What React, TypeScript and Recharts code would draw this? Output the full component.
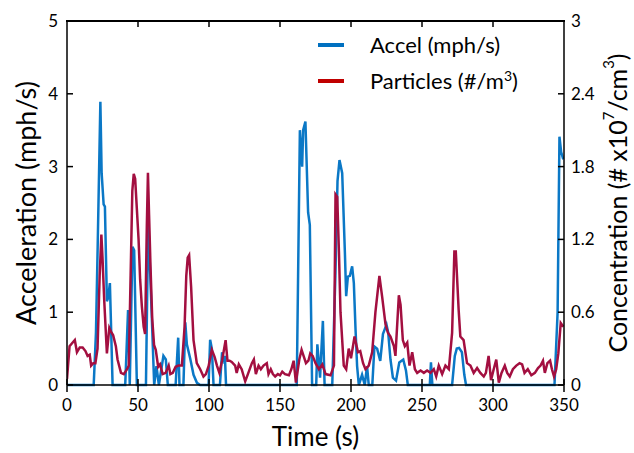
import React from 'react';
import { ComposedChart, Line, XAxis, YAxis } from 'recharts';

// acceleration trace (mph/s)
const accelTime = [
  0, 18.8, 20.4, 21.6, 23.5, 24.4, 25.8, 26.7, 28.1, 29, 30.2, 30.9, 32.1, 41, 43, 44.2, 46.1, 47.3, 49.2,
  55.6, 57.2, 59.6, 61.4, 63, 64.7, 67.9, 69.6, 71, 76.5, 78.3, 79.2, 82, 83.3, 84.4, 86.8, 89.1, 91.5, 93.8,
  99.7, 100.8, 102, 103.2, 107.7, 109.2, 110.4, 111.2, 112, 161.8, 164, 165.6, 166.3, 167.9, 169.8, 171, 172.6,
  175.5, 176.3, 177.2, 178.2, 179.2, 180.2, 181.4, 186.8, 189, 190.5, 191.9, 193.8, 195.7, 196.6, 197.8, 199.2,
  200.8, 202, 203.2, 204.3, 205.5, 207.8, 209.7, 211.3, 212.5, 215, 216.5, 218.4, 220.6, 222.5, 225, 226.2,
  227.8, 229.5, 231.7, 234, 236.8, 238.7, 240, 255.5, 256.3, 257.3, 271.2, 273.1, 274.5, 276.1, 278.1, 279.8,
  281, 343.3, 345.5, 346.8, 348, 349.5,
];
const accelValue = [
  0, 0, 0.72, 1.9, 3.89, 2.91, 2.48, 2.45, 1.15, 1.2, 1.4, 0.9, 0, 0, 1.03, 0, 1.9, 1.85, 0,
  0, 2.27, 1.0, 0, 0.26, 0, 0.4, 0.35, 0, 0, 0.65, 0, 0, 0.86, 0.56, 0.36, 0.14, 0.03, 0,
  0, 0.62, 0.5, 0, 0, 0.45, 0.35, 0.4, 0, 0, 3.5, 3.0, 3.5, 3.62, 2.37, 2.2, 0,
  0, 0.56, 0.35, 0.1, 0.5, 0.88, 0, 0, 1.5, 2.8, 3.09, 2.91, 1.82, 1.22, 1.49, 1.5,
  1.63, 1.4, 0.76, 0.26, 0, 0.14, 0, 0.26, 0, 0, 0.53, 0.5, 0.33, 0.7, 0.83, 0.72,
  0.35, 0.1, 0.06, 0.31, 0.35, 0.2, 0, 0, 0.31, 0, 0, 0.4, 0.5, 0.51, 0.45, 0.14,
  0, 0, 1.0, 3.41, 3.2, 3.1,
];

// particle concentration (# x10^7/cm^3)
const particleTime = [
  0, 1.8, 4, 5.5, 7, 9, 11, 13, 14.5, 16, 17, 18.5, 20, 21.5, 23, 24.2, 25, 26.2, 28.1, 29.8, 31, 32.5,
  34.4, 35.6, 38, 40, 42.3, 43.5, 44.8, 46, 47, 48, 49.2, 50.4, 51.5, 52.7, 54, 55, 56.2, 57, 57.8, 58.8,
  60, 61.3, 62.5, 64.2, 65.5, 67.4, 69.5, 71.6, 72.8, 74.5, 76.5, 78.5, 80.9, 82.8, 84, 85, 86, 87.4, 89.1,
  91.4, 93.8, 96.1, 97.8, 99.7, 102, 104, 105.6, 107.3, 109.2, 111.7, 113, 114.5, 116, 118.4, 119.5, 121,
  123, 125.5, 127.4, 130.2, 131.6, 133, 134.9, 136.5, 138.4, 140.7, 141.9, 143.5, 145, 146.6, 148.5, 150,
  151.6, 153.5, 156.3, 158, 159.6, 161.2, 163.6, 165.2, 166.6, 168.3, 170, 171.3, 173, 175, 177.4, 179.8,
  182.1, 185.6, 188, 189.1, 190.3, 191.5, 192.6, 194.9, 196.6, 198.4, 200, 202.5, 204.9, 206.5, 208.5,
  210.2, 212.5, 214.9, 217.2, 220, 221.9, 224.3, 226, 227.8, 230.2, 231.3, 233.7, 234.9, 236.5, 237.9,
  239.6, 241.2, 243.1, 245, 246.6, 249, 251.3, 253.6, 256, 258.3, 260, 261.8, 264.2, 266.5, 268.9, 271.2,
  272.8, 273.8, 275.8, 277, 279.3, 281.7, 284.1, 286.4, 288.8, 291.1, 293.5, 295, 296.9, 298.6, 300.5,
  302.3, 304.1, 306, 308.3, 310, 311.8, 314, 316.4, 318.7, 320.5, 322.2, 324.5, 327, 329.5, 331.7, 333.5,
  335.2, 336.5, 338.3, 340.2, 341.5, 343, 344.5, 346, 347.7, 349.5,
];
const particleValue = [
  0.05, 0.32, 0.35, 0.37, 0.27, 0.31, 0.31, 0.28, 0.24, 0.25, 0.16, 0.18, 0.18, 0.3, 0.9, 1.24, 1.05, 0.7, 0.26, 0.47, 0.44, 0.41,
  0.32, 0.21, 0.1, 0.09, 0.13, 0.16, 0.9, 1.6, 1.74, 1.7, 1.45, 1.2, 0.87, 0.65, 0.48, 0.42, 1.3, 1.75, 1.4, 0.98,
  0.55, 0.33, 0.29, 0.15, 0.17, 0.09, 0.1, 0.16, 0.09, 0.1, 0.15, 0.16, 0.16, 0.48, 0.9, 1.05, 1.07, 0.81, 0.37,
  0.18, 0.13, 0.07, 0.09, 0.155, 0.29, 0.23, 0.16, 0.1, 0.2, 0.37, 0.2, 0.2, 0.19, 0.16, 0.1, 0.17,
  0.13, 0.03, 0.09, 0.18, 0.21, 0.09, 0.16, 0.13, 0.16, 0.18, 0.09, 0.13, 0.09, 0.07, 0.09, 0.08,
  0.11, 0.09, 0.08, 0.13, 0.2, 0.02, 0.21, 0.29, 0.24, 0.18, 0.2, 0.26, 0.24, 0.18, 0.13, 0.17,
  0.09, 0.08, 0.16, 1.57, 1.55, 1.1, 0.6, 0.16, 0.13, 0.3, 0.22, 0.4, 0.27, 0.28, 0.18,
  0.13, 0.16, 0.27, 0.6, 0.9, 0.73, 0.5, 0.43, 0.4, 0.32, 0.24, 0.74, 0.66, 0.37, 0.32,
  0.35, 0.16, 0.27, 0.13, 0.1, 0.12, 0.1, 0.12, 0.1, 0.13, 0.07, 0.16, 0.09, 0.16, 0.13, 0.43,
  1.1, 1.1, 0.62, 0.4, 0.37, 0.18, 0.16, 0.1, 0.14, 0.1, 0.07, 0.1, 0.24, 0.04, 0.13,
  0.21, 0.02, 0.1, 0.16, 0.1, 0.07, 0.13, 0.16, 0.18, 0.17, 0.1, 0.13, 0.08, 0.1, 0.14, 0.16,
  0.2, 0.1, 0.18, 0.2, 0.13, 0.07, 0.13, 0.26, 0.51, 0.48,
];

const timeTicks = [0, 50, 100, 150, 200, 250, 300, 350];
const accelTicks = [0, 1, 2, 3, 4, 5];
const particleTicks = [0, 0.6, 1.2, 1.8, 2.4, 3];

const accelData = accelTime.map((t, i) => ({ t, v: accelValue[i] }));
const particleData = particleTime.map((t, i) => ({ t, v: particleValue[i] }));

const FONT = 'Lato, "Open Sans", sans-serif';
const BLUE = '#0b78c6';
const RED = '#a30f40';

const CHART_W = 634;
const CHART_H = 453;
const TOP = 21;
const LEFT_W = 67;
const RIGHT_W = 70;
const PLOT_W = CHART_W - LEFT_W - RIGHT_W;
const T_MAX = 350;

const BottomTick = ({ x, y, payload }: any) => (
  <g>
    <line x1={x} x2={x} y1={y - 12} y2={y + 1} stroke="#000" strokeWidth={1.5} />
    <text x={x} y={y} dy={20} textAnchor="middle" fontSize={17} fontFamily={FONT} fill="#000">
      {payload.value}
    </text>
  </g>
);

const LeftTitle = ({ viewBox }: any) => {
  const cx = viewBox.x + 25;
  const cy = viewBox.y + viewBox.height / 2;
  return (
    <text x={cx} y={cy} transform={`rotate(-90 ${cx} ${cy})`} textAnchor="middle" dominantBaseline="central"
      fontSize={27} fontFamily={FONT} fill="#000">
      Acceleration (mph/s)
    </text>
  );
};

const RightTitle = ({ viewBox }: any) => {
  const cx = viewBox.x + 53;
  const cy = viewBox.y + viewBox.height / 2;
  return (
    <text x={cx} y={cy} transform={`rotate(-90 ${cx} ${cy})`} textAnchor="middle" dominantBaseline="central"
      fontSize={25} fontFamily={FONT} fill="#000">
      Concentration (# x10<tspan dy={-9} fontSize={15}>7</tspan>
      <tspan dy={9}>/cm</tspan>
      <tspan dy={-9} fontSize={15}>3</tspan>
      <tspan dy={9}>)</tspan>
    </text>
  );
};

// top edge of the plot frame, with inward ticks at the time tick values
const TopFrame = () => (
  <>
    <div
      style={{
        position: 'absolute',
        left: LEFT_W - 1,
        top: TOP - 1,
        width: PLOT_W + 2,
        height: 0,
        borderTop: '2px solid #000',
        pointerEvents: 'none',
      }}
    ></div>
    <svg width={CHART_W} height={40} style={{ position: 'absolute', left: 0, top: 0, pointerEvents: 'none' }}>
      {timeTicks.slice(1, -1).map((t) => {
        const tx = LEFT_W + (t / T_MAX) * PLOT_W;
        return <line key={t} x1={tx} x2={tx} y1={TOP} y2={TOP + 6} stroke="#000" strokeWidth={1.5} />;
      })}
    </svg>
  </>
);

const legendItems = [
  { color: '#0070c0', label: <>Accel (mph/s)</> },
  { color: '#c00000', label: <>Particles (#/m<sup style={{ fontSize: 14 }}>3</sup>)</> },
];

const LegendBox = () => (
  <div style={{ position: 'absolute', left: 318, top: 27, fontFamily: FONT, fontSize: 22, color: '#000', lineHeight: 1 }}>
    {legendItems.map((item, index) => (
      <div key={index} style={{ display: 'flex', alignItems: 'center', height: 36 }}>
        <div style={{ width: 26, height: 4, backgroundColor: item.color, marginRight: 26 }}></div>
        <span>{item.label}</span>
      </div>
    ))}
  </div>
);

export default function App() {
  return (
    <div style={{ position: 'absolute', left: 0, top: 0, width: CHART_W, height: CHART_H, background: '#fff' }}>
      <ComposedChart width={CHART_W} height={CHART_H} margin={{ top: TOP, right: 0, bottom: 0, left: 0 }}>
        <XAxis
          dataKey="t"
          type="number"
          domain={[0, T_MAX]}
          ticks={timeTicks}
          interval={0}
          height={68}
          tickSize={0}
          tickMargin={6}
          tickLine={false}
          tick={<BottomTick />}
          stroke="#000"
          strokeWidth={1.5}
          allowDataOverflow
          label={{ value: 'Time (s)', position: 'insideBottom', offset: 7, fontSize: 26, fontFamily: FONT, fill: '#000' }}
        />
        <YAxis
          yAxisId="left"
          domain={[0, 5]}
          ticks={accelTicks}
          interval={0}
          width={LEFT_W}
          tickSize={-6}
          tickMargin={15}
          stroke="#000"
          strokeWidth={1.5}
          tick={{ fontSize: 17, fontFamily: FONT, fill: '#000' }}
          label={<LeftTitle />}
        />
        <YAxis
          yAxisId="right"
          orientation="right"
          domain={[0, 3]}
          ticks={particleTicks}
          interval={0}
          width={RIGHT_W}
          tickSize={-6}
          tickMargin={13}
          stroke="#000"
          strokeWidth={1.5}
          tick={{ fontSize: 17, fontFamily: FONT, fill: '#000' }}
          label={<RightTitle />}
        />
        <Line
          yAxisId="left"
          data={accelData}
          dataKey="v"
          type="linear"
          stroke={BLUE}
          strokeWidth={2.5}
          dot={false}
          isAnimationActive={false}
        />
        <Line
          yAxisId="right"
          data={particleData}
          dataKey="v"
          type="linear"
          stroke={RED}
          strokeWidth={2.5}
          dot={false}
          isAnimationActive={false}
        />
      </ComposedChart>
      <TopFrame />
      <LegendBox />
    </div>
  );
}
